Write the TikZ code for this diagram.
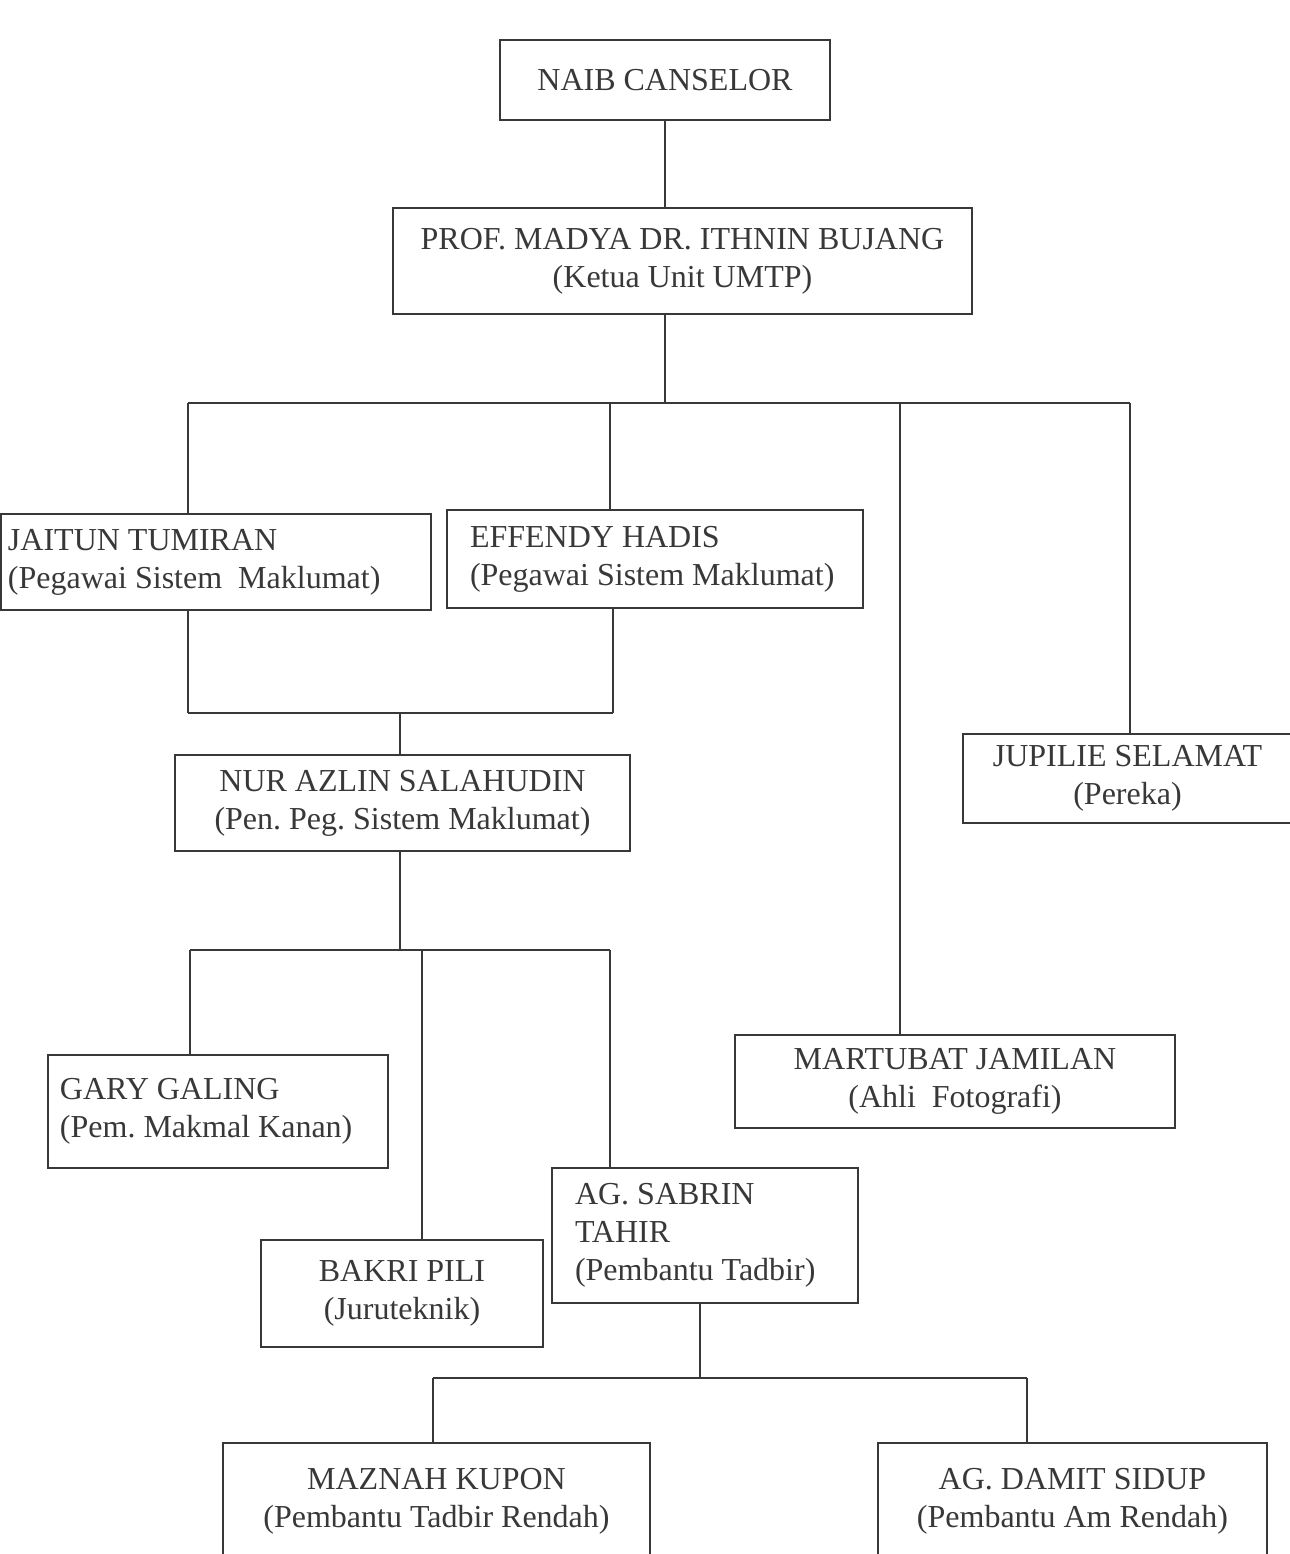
\documentclass[tikz,border=0pt]{standalone}
\usepackage{fontspec}
\setmainfont{Liberation Serif}
\definecolor{ink}{HTML}{383838}
\tikzset{
  post/.style={draw=ink, line width=0.8pt, text=ink, inner sep=0pt, align=center,
    font=\fontsize{16pt}{19pt}\selectfont\frenchspacing},
  leftpost/.style={post, align=flush left},
  wire/.style={draw=ink, line width=0.8pt}
}

\begin{document}
\begin{tikzpicture}[x=0.5pt, y=-0.5pt]
    \useasboundingbox (0,0) rectangle (1290,1554);
    % posts
    \node[post, minimum width=165pt, minimum height=40pt] (naib) at (665,80) {NAIB CANSELOR};
    \node[post, minimum width=289.5pt, minimum height=53pt] (prof) at (682.5,261) {PROF. MADYA DR. ITHNIN BUJANG\\(Ketua Unit UMTP)};
    \node[leftpost, text width=208pt, inner xsep=3.5pt, minimum height=48pt] (jaitun) at (216,562) {JAITUN TUMIRAN\\(Pegawai Sistem\ \ Maklumat)};
    \node[leftpost, text width=185pt, inner xsep=11.5pt, minimum height=49pt] (effendy) at (655,559) {EFFENDY HADIS\\(Pegawai Sistem Maklumat)};
    \node[post, minimum width=227.5pt, minimum height=48pt] (nur) at (402.5,803) {NUR AZLIN SALAHUDIN\\(Pen. Peg. Sistem Maklumat)};
    \node[post, minimum width=164.5pt, minimum height=44.5pt] (jupilie) at (1127.5,778.5) {JUPILIE SELAMAT\\(Pereka)};
    \node[leftpost, text width=158pt, inner xsep=6pt, minimum height=56.5pt] (gary) at (218,1111.5) {GARY GALING\\(Pem. Makmal Kanan)\\[-6pt]};
    \node[post, minimum width=220pt, minimum height=46.5pt] (martubat) at (955,1081.5) {MARTUBAT JAMILAN\\(Ahli\ \ Fotografi)};
    \node[post, minimum width=141pt, minimum height=53.5pt] (bakri) at (402,1293.5) {BAKRI PILI\\(Juruteknik)};
    \node[leftpost, text width=130pt, inner xsep=11.5pt, minimum height=67.5pt] (sabrin) at (705,1235.5) {AG. SABRIN\\TAHIR\\(Pembantu Tadbir)};
    \node[post, minimum width=213.5pt, minimum height=58pt] (maznah) at (436.5,1501) {MAZNAH KUPON\\(Pembantu Tadbir Rendah)};
    \node[post, minimum width=194.5pt, minimum height=58pt] (damit) at (1072.5,1501) {AG. DAMIT SIDUP\\(Pembantu Am Rendah)};
    % buses
    \coordinate (bus1) at (665,403);
    \coordinate (bus2) at (400,713);
    \coordinate (bus3) at (400,950);
    \coordinate (bus4) at (700,1378);
    \draw[wire] (naib) -- (naib |- prof.north);
    \draw[wire] (bus1 |- prof.south) -- (bus1);
    \draw[wire] (188,0 |- bus1) -- (1130,0 |- bus1);
    \foreach \x/\n in {188/jaitun,610/effendy,900/martubat,1130/jupilie}
    \draw[wire] (\x,0 |- bus1) -- (\x,0 |- \n.north);
    \draw[wire] (188,0 |- bus2) -- (613,0 |- bus2);
    \foreach \x/\n in {188/jaitun,613/effendy}
    \draw[wire] (\x,0 |- bus2) -- (\x,0 |- \n.south);
    \draw[wire] (bus2) -- (bus2 |- nur.north);
    \draw[wire] (bus3 |- nur.south) -- (bus3);
    \draw[wire] (190,0 |- bus3) -- (610,0 |- bus3);
    \foreach \x/\n in {190/gary,422/bakri,610/sabrin}
    \draw[wire] (\x,0 |- bus3) -- (\x,0 |- \n.north);
    \draw[wire] (bus4 |- sabrin.south) -- (bus4);
    \draw[wire] (433,0 |- bus4) -- (1027,0 |- bus4);
    \foreach \x/\n in {433/maznah,1027/damit}
    \draw[wire] (\x,0 |- bus4) -- (\x,0 |- \n.north);
\end{tikzpicture}
\end{document}
